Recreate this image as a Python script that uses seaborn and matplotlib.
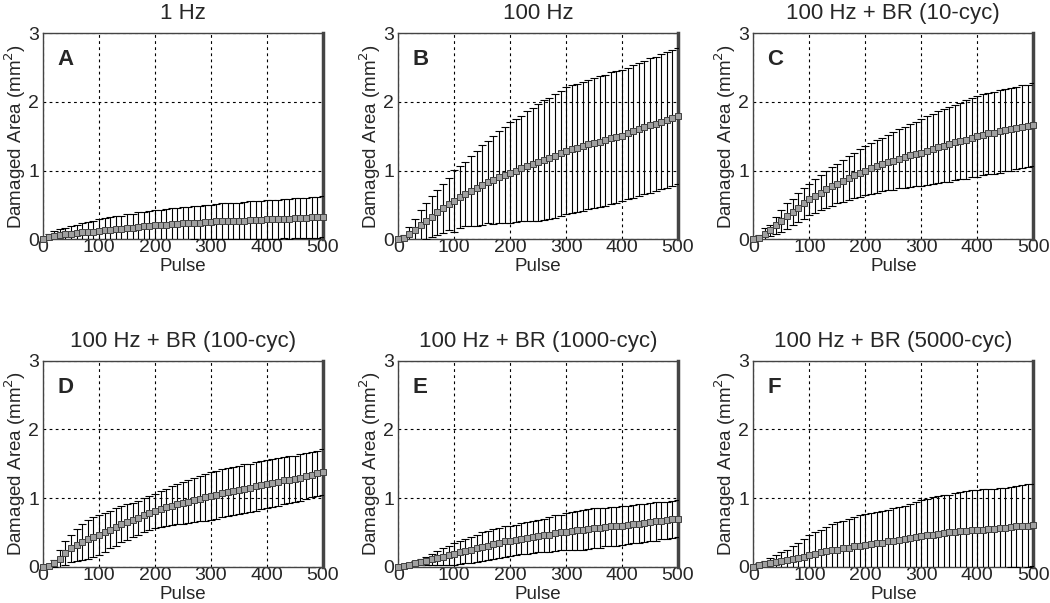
import numpy as np
import pandas as pd
import seaborn as sns
import matplotlib.pyplot as plt

# pulse number of each point (every 10 pulses)
pulse = list(range(0, 501, 10))

titles = ["1 Hz", "100 Hz", "100 Hz + BR (10-cyc)",
          "100 Hz + BR (100-cyc)", "100 Hz + BR (1000-cyc)", "100 Hz + BR (5000-cyc)"]
letters = ["A", "B", "C", "D", "E", "F"]

mean_a = [0.00, 0.03, 0.05, 0.06, 0.07, 0.08, 0.09, 0.10, 0.10, 0.11,
          0.12, 0.13, 0.14, 0.15, 0.15, 0.16, 0.17, 0.18, 0.19, 0.19,
          0.20, 0.21, 0.21, 0.22, 0.22, 0.23, 0.23, 0.24, 0.24, 0.25,
          0.25, 0.26, 0.26, 0.26, 0.27, 0.27, 0.27, 0.28, 0.28, 0.28,
          0.29, 0.29, 0.29, 0.30, 0.30, 0.31, 0.31, 0.31, 0.32, 0.32,
          0.33]
sd_a = [0.00, 0.05, 0.07, 0.09, 0.10, 0.11, 0.12, 0.14, 0.15, 0.16,
        0.17, 0.18, 0.18, 0.19, 0.19, 0.20, 0.20, 0.21, 0.21, 0.22,
        0.22, 0.22, 0.23, 0.23, 0.23, 0.24, 0.24, 0.24, 0.25, 0.25,
        0.25, 0.25, 0.26, 0.26, 0.26, 0.26, 0.27, 0.27, 0.27, 0.27,
        0.28, 0.28, 0.28, 0.28, 0.29, 0.29, 0.29, 0.29, 0.30, 0.30,
        0.30]

mean_b = [0.00, 0.02, 0.08, 0.14, 0.20, 0.27, 0.33, 0.39, 0.45, 0.51,
          0.56, 0.61, 0.66, 0.70, 0.74, 0.79, 0.83, 0.86, 0.90, 0.94,
          0.97, 1.00, 1.03, 1.06, 1.09, 1.12, 1.15, 1.18, 1.21, 1.25,
          1.29, 1.31, 1.33, 1.35, 1.38, 1.40, 1.42, 1.44, 1.47, 1.49,
          1.51, 1.54, 1.57, 1.60, 1.63, 1.66, 1.68, 1.71, 1.73, 1.76,
          1.79]
sd_b = [0.00, 0.04, 0.10, 0.16, 0.22, 0.26, 0.30, 0.33, 0.36, 0.38,
        0.45, 0.45, 0.47, 0.51, 0.55, 0.58, 0.60, 0.64, 0.67, 0.70,
        0.73, 0.75, 0.77, 0.80, 0.82, 0.85, 0.87, 0.88, 0.90, 0.91,
        0.92, 0.93, 0.93, 0.94, 0.94, 0.95, 0.95, 0.95, 0.96, 0.96,
        0.96, 0.96, 0.97, 0.97, 0.97, 0.98, 0.98, 0.98, 0.99, 0.99,
        0.99]

mean_c = [0.00, 0.02, 0.07, 0.13, 0.20, 0.27, 0.34, 0.40, 0.46, 0.52,
          0.58, 0.63, 0.68, 0.73, 0.77, 0.81, 0.85, 0.89, 0.93, 0.97,
          1.00, 1.03, 1.06, 1.09, 1.12, 1.14, 1.17, 1.19, 1.22, 1.24,
          1.26, 1.29, 1.31, 1.34, 1.36, 1.38, 1.41, 1.43, 1.45, 1.48,
          1.50, 1.52, 1.54, 1.55, 1.57, 1.59, 1.60, 1.62, 1.64, 1.65,
          1.67]
sd_c = [0.00, 0.04, 0.09, 0.08, 0.12, 0.16, 0.19, 0.19, 0.21, 0.22,
        0.23, 0.25, 0.26, 0.27, 0.28, 0.29, 0.31, 0.32, 0.33, 0.35,
        0.36, 0.37, 0.38, 0.39, 0.40, 0.42, 0.43, 0.44, 0.46, 0.47,
        0.49, 0.50, 0.51, 0.52, 0.53, 0.54, 0.55, 0.56, 0.57, 0.58,
        0.59, 0.59, 0.59, 0.60, 0.60, 0.60, 0.60, 0.60, 0.60, 0.60,
        0.60]

mean_d = [0.00, 0.01, 0.05, 0.12, 0.20, 0.27, 0.32, 0.36, 0.40, 0.43,
          0.46, 0.50, 0.54, 0.58, 0.62, 0.65, 0.68, 0.71, 0.75, 0.78,
          0.81, 0.84, 0.87, 0.89, 0.91, 0.93, 0.95, 0.97, 0.99, 1.01,
          1.03, 1.05, 1.07, 1.09, 1.10, 1.12, 1.14, 1.15, 1.17, 1.19,
          1.20, 1.22, 1.24, 1.26, 1.27, 1.28, 1.30, 1.32, 1.34, 1.36,
          1.38]
sd_d = [0.00, 0.02, 0.05, 0.13, 0.18, 0.20, 0.23, 0.26, 0.28, 0.29,
        0.29, 0.28, 0.27, 0.27, 0.26, 0.26, 0.25, 0.25, 0.25, 0.25,
        0.25, 0.26, 0.27, 0.28, 0.29, 0.30, 0.31, 0.32, 0.33, 0.34,
        0.35, 0.35, 0.35, 0.35, 0.35, 0.35, 0.35, 0.35, 0.35, 0.35,
        0.35, 0.35, 0.35, 0.34, 0.34, 0.34, 0.34, 0.33, 0.33, 0.33,
        0.33]

mean_e = [0.00, 0.01, 0.03, 0.05, 0.07, 0.09, 0.11, 0.13, 0.15, 0.17,
          0.19, 0.21, 0.23, 0.25, 0.27, 0.29, 0.31, 0.33, 0.35, 0.37,
          0.38, 0.39, 0.41, 0.42, 0.43, 0.45, 0.46, 0.47, 0.49, 0.50,
          0.51, 0.52, 0.53, 0.54, 0.55, 0.56, 0.57, 0.58, 0.59, 0.59,
          0.60, 0.61, 0.62, 0.63, 0.64, 0.65, 0.66, 0.67, 0.68, 0.69,
          0.70]
sd_e = [0.00, 0.01, 0.02, 0.03, 0.04, 0.06, 0.08, 0.10, 0.12, 0.14,
        0.16, 0.17, 0.18, 0.19, 0.20, 0.21, 0.21, 0.22, 0.22, 0.22,
        0.22, 0.22, 0.23, 0.23, 0.23, 0.23, 0.24, 0.25, 0.26, 0.26,
        0.27, 0.28, 0.28, 0.29, 0.29, 0.29, 0.29, 0.28, 0.28, 0.28,
        0.28, 0.28, 0.28, 0.28, 0.28, 0.28, 0.28, 0.27, 0.27, 0.27,
        0.27]

mean_f = [0.00, 0.02, 0.04, 0.05, 0.07, 0.09, 0.10, 0.12, 0.13, 0.15,
          0.17, 0.19, 0.21, 0.23, 0.24, 0.25, 0.27, 0.28, 0.30, 0.31,
          0.32, 0.33, 0.34, 0.35, 0.37, 0.38, 0.39, 0.41, 0.42, 0.44,
          0.45, 0.46, 0.47, 0.48, 0.49, 0.50, 0.51, 0.52, 0.52, 0.53,
          0.53, 0.54, 0.55, 0.55, 0.56, 0.57, 0.58, 0.59, 0.59, 0.60,
          0.61]
sd_f = [0.00, 0.03, 0.05, 0.08, 0.10, 0.12, 0.15, 0.18, 0.22, 0.26,
        0.30, 0.31, 0.33, 0.35, 0.38, 0.40, 0.40, 0.41, 0.42, 0.44,
        0.45, 0.45, 0.46, 0.46, 0.46, 0.47, 0.48, 0.48, 0.49, 0.51,
        0.52, 0.53, 0.54, 0.55, 0.55, 0.55, 0.56, 0.57, 0.58, 0.59,
        0.59, 0.59, 0.59, 0.59, 0.59, 0.58, 0.58, 0.59, 0.60, 0.60,
        0.60]

means = [mean_a, mean_b, mean_c, mean_d, mean_e, mean_f]
sds = [sd_a, sd_b, sd_c, sd_d, sd_e, sd_f]

sns.set_theme(style="white")
plt.rcParams['font.family'] = ['Liberation Sans', 'DejaVu Sans']

fig, axes = plt.subplots(2, 3, figsize=(10.5, 6.03), dpi=100)
fig.subplots_adjust(left=0.041, right=0.984, top=0.945, bottom=0.06,
                    wspace=0.27, hspace=0.59)

for ax, title, letter, m, s in zip(axes.flat, titles, letters, means, sds):
    df = pd.DataFrame({"Pulse": pulse, "Area": m, "SD": s})
    ax.errorbar(df["Pulse"], df["Area"], yerr=df["SD"], fmt="none",
                ecolor="black", elinewidth=0.8, capsize=3, capthick=0.8, zorder=3)
    sns.lineplot(data=df, x="Pulse", y="Area", ax=ax, color="#555555",
                 linewidth=1.0, marker="s", markersize=4.5,
                 markerfacecolor="#a0a0a0", markeredgecolor="#404040",
                 markeredgewidth=0.7, zorder=4, clip_on=False)
    ax.set_xlim(0, 500)
    ax.set_ylim(0, 3)
    ax.set_xticks(range(0, 501, 100))
    ax.set_yticks([0, 1, 2, 3])
    ax.grid(True, color="black", linestyle=(0, (2.5, 3)), linewidth=0.8)
    for side in ["left", "top", "bottom"]:
        ax.spines[side].set_color("#444444")
        ax.spines[side].set_linewidth(1.0)
    ax.spines["right"].set_color("#444444")
    ax.spines["right"].set_linewidth(2.5)
    ax.tick_params(axis="x", length=0, labelsize=14, pad=0)
    ax.tick_params(axis="y", length=0, labelsize=14, pad=3)
    ax.set_title(title, fontsize=16, pad=10)
    ax.set_xlabel("Pulse", fontsize=13.5, labelpad=1.5)
    ax.set_ylabel("Damaged Area (mm$^2$)", fontsize=13.5, labelpad=0)
    ax.text(0.05, 0.87, letter, transform=ax.transAxes, fontsize=16,
            fontweight="bold", va="center", ha="left")

fig.savefig("out.png", dpi=100)
